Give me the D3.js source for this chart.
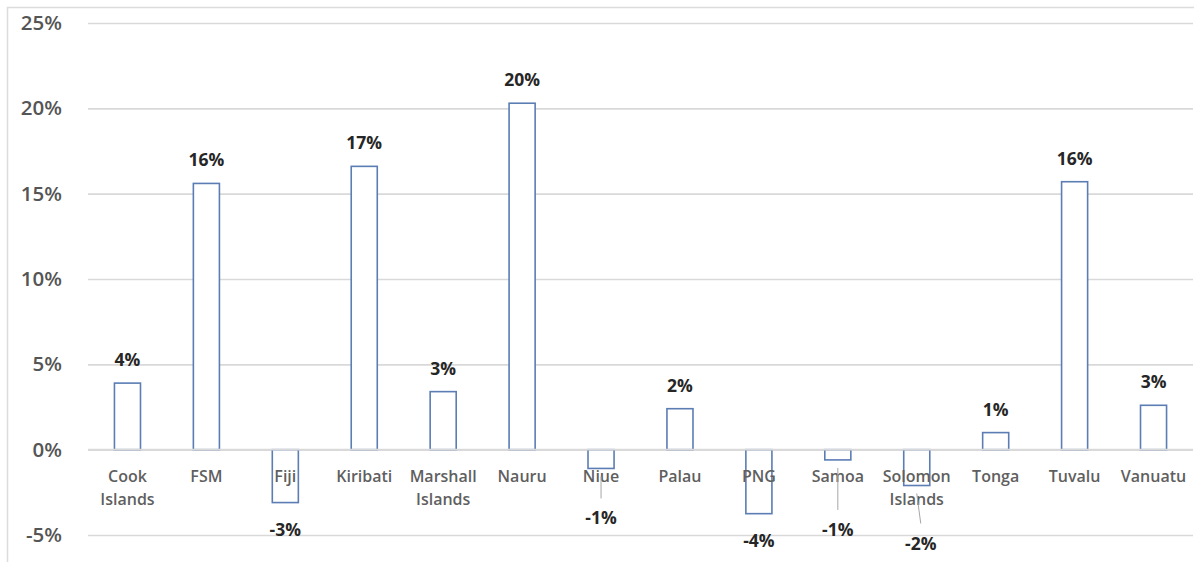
<!DOCTYPE html>
<html>
<head>
<meta charset="utf-8">
<script src="https://cdn.jsdelivr.net/npm/d3@7"></script>
<style>
  html, body { margin: 0; padding: 0; background: #fff; }
  svg { display: block; }
</style>
</head>
<body>
<svg id="chart" width="1194" height="562"></svg>
<script>
// Year-on-year change by Pacific economy (share, in %)
const categories = [
  "Cook Islands", "FSM", "Fiji", "Kiribati", "Marshall Islands", "Nauru", "Niue",
  "Palau", "PNG", "Samoa", "Solomon Islands", "Tonga", "Tuvalu", "Vanuatu"
];
const values = [3.9, 15.6, -3.1, 16.6, 3.4, 20.3, -1.1, 2.4, -3.75, -0.6, -2.1, 1.0, 15.7, 2.6];
const yTicks = [-5, 0, 5, 10, 15, 20, 25];

// Extra downward shift / sideways nudge for labels pushed below the category names
const labelShift = { "Niue": [0, 23], "Samoa": [0, 43], "Solomon Islands": [4, 31] };
const withLeader = new Set(["Niue", "Samoa", "Solomon Islands"]);

const svg = d3.select("#chart");
const W = 1194, H = 562;

const x = d3.scaleBand()
  .domain(categories)
  .range([88, 1193])
  .paddingInner(0.67)
  .paddingOuter(0.335);

const y = d3.scaleLinear().domain([-5, 25]).range([535, 23]);

// chart frame
svg.append("path")
  .attr("d", `M7.5,${H} V7.5 H${W}`)
  .attr("fill", "none")
  .attr("stroke", "#dcdcdc")
  .attr("stroke-width", 1.5);

// gridlines + tick labels via axis
const yAxis = d3.axisLeft(y)
  .tickValues(yTicks)
  .tickSize(-(1193 - 88))
  .tickPadding(26)
  .tickFormat(d => d + "%");

const gAxis = svg.append("g")
  .attr("transform", "translate(88,0)")
  .call(yAxis);
gAxis.select(".domain").remove();
gAxis.selectAll(".tick line")
  .attr("stroke", "#d9d9d9")
  .attr("stroke-width", 1.6);
gAxis.selectAll(".tick text")
  .attr("fill", "#555")
  .attr("font-family", "'Open Sans', sans-serif")
  .attr("font-weight", 600)
  .attr("font-size", 20.5);

const data = categories.map((c, i) => ({ c, v: values[i] }));

// hollow bars
svg.append("g").selectAll("rect")
  .data(data)
  .join("rect")
  .attr("x", d => x(d.c))
  .attr("width", x.bandwidth())
  .attr("y", d => y(Math.max(0, d.v)))
  .attr("height", d => Math.abs(y(d.v) - y(0)))
  .attr("fill", "#fff")
  .attr("stroke", "#5b7db4")
  .attr("stroke-width", 1.6);

// zero line over the bar bases
svg.append("line")
  .attr("x1", 88).attr("x2", 1193)
  .attr("y1", y(0)).attr("y2", y(0))
  .attr("stroke", "#d9d9d9")
  .attr("stroke-width", 1.6);

// category names (wrapped on two lines where needed)
const catG = svg.append("g")
  .attr("font-family", "'Open Sans', sans-serif")
  .attr("font-weight", 600)
  .attr("font-size", 16)
  .attr("fill", "#5f5f5f")
  .attr("text-anchor", "middle");

data.forEach(d => {
  const words = d.c.split(" ");
  const t = catG.append("text")
    .attr("x", x(d.c) + x.bandwidth() / 2)
    .attr("y", y(0) + 32);
  words.forEach((w, i) => {
    t.append("tspan")
      .attr("x", x(d.c) + x.bandwidth() / 2)
      .attr("dy", i === 0 ? 0 : 23)
      .text(w);
  });
});

// value labels, whole percent with a plain hyphen for negatives
const fmt = v => Math.round(v) + "%";
const labelPos = d => {
  const cx = x(d.c) + x.bandwidth() / 2;
  const s = labelShift[d.c] || [0, 0];
  if (d.v >= 0) return [cx + s[0], y(d.v) - 17 + s[1]];
  return [cx + s[0], y(d.v) + 33 + s[1]];
};

// leader lines for the labels pushed further down
svg.append("g").selectAll("line")
  .data(data.filter(d => withLeader.has(d.c)))
  .join("line")
  .attr("x1", d => x(d.c) + x.bandwidth() / 2)
  .attr("y1", d => y(d.v) + 8)
  .attr("x2", d => labelPos(d)[0])
  .attr("y2", d => labelPos(d)[1] - 26)
  .attr("stroke", "#a6a6a6")
  .attr("stroke-width", 1);

svg.append("g")
  .attr("font-family", "'Open Sans', sans-serif")
  .attr("font-weight", 700)
  .attr("font-size", 17.5)
  .attr("fill", "#262626")
  .attr("text-anchor", "middle")
  .selectAll("text")
  .data(data)
  .join("text")
  .attr("x", d => labelPos(d)[0])
  .attr("y", d => labelPos(d)[1])
  .text(d => fmt(d.v));
</script>
</body>
</html>
